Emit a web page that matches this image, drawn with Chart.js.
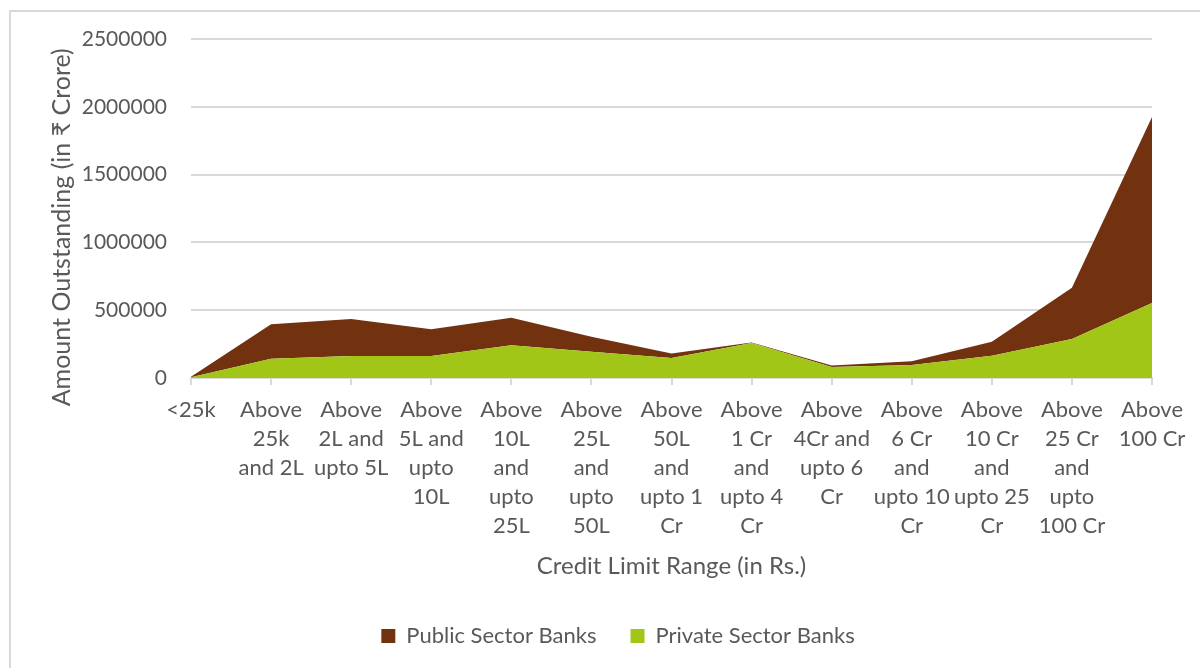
<!DOCTYPE html>
<html>
<head>
<meta charset="utf-8">
<script src="https://cdn.jsdelivr.net/npm/chart.js@4.4.1/dist/chart.umd.min.js"></script>
<style>
  html, body { margin: 0; padding: 0; background: #ffffff; }
  #frame { position: absolute; left: 9px; top: 10px; width: 1300px; height: 800px;
           border-left: 2px solid #d9d9d9; border-top: 2px solid #d9d9d9; box-sizing: border-box; }
  #wrap { position: absolute; left: 0; top: 0; width: 1200px; height: 668px; }
</style>
</head>
<body>
<div id="frame"></div>
<div id="wrap"><canvas id="c" width="1200" height="668"></canvas></div>
<script>
const categories = [
  "<25k",
  ["Above", "25k", "and 2L"],
  ["Above", "2L and", "upto 5L"],
  ["Above", "5L and", "upto", "10L"],
  ["Above", "10L", "and", "upto", "25L"],
  ["Above", "25L", "and", "upto", "50L"],
  ["Above", "50L", "and", "upto 1", "Cr"],
  ["Above", "1 Cr", "and", "upto 4", "Cr"],
  ["Above", "4Cr and", "upto 6", "Cr"],
  ["Above", "6 Cr", "and", "upto 10", "Cr"],
  ["Above", "10 Cr", "and", "upto 25", "Cr"],
  ["Above", "25 Cr", "and", "upto", "100 Cr"],
  ["Above", "100 Cr"]
];
const privateSectorBanks = [6000, 142000, 162000, 162000, 241000, 194000, 148000, 259000, 81000, 96000, 165000, 288000, 554000];
const publicSectorBanks  = [4000, 254000, 273000, 197000, 204000, 111000, 32000, 3000, 12000, 27000, 103000, 377000, 1371000];
const yTicks = [0, 500000, 1000000, 1500000, 2000000, 2500000];

const TEXT = '#595959';
const FONT = "Lato, 'Noto Sans', 'DejaVu Sans', sans-serif";
const GRID = '#d9d9d9';

const legendShift = {
  id: 'legendShift',
  afterLayout(chart) {
    const lg = chart.legend;
    if (lg) { lg.left += 22; lg.right += 22; }
  }
};

new Chart(document.getElementById('c'), {
  type: 'line',
  data: {
    labels: categories,
    datasets: [
      {
        label: 'Private Sector Banks',
        data: privateSectorBanks,
        backgroundColor: '#a2c617',
        borderColor: '#a2c617',
        borderWidth: 0,
        pointRadius: 0,
        fill: 'origin',
        tension: 0
      },
      {
        label: 'Public Sector Banks',
        data: publicSectorBanks,
        backgroundColor: '#72310f',
        borderColor: '#72310f',
        borderWidth: 0,
        pointRadius: 0,
        fill: '-1',
        tension: 0
      }
    ]
  },
  plugins: [legendShift],
  options: {
    responsive: false,
    animation: false,
    events: [],
    layout: { padding: { left: 40, top: 39, right: 48, bottom: 11 } },
    plugins: {
      tooltip: { enabled: false },
      legend: {
        position: 'bottom',
        reverse: true,
        labels: {
          boxWidth: 14,
          boxHeight: 14,
          padding: 34,
          color: TEXT,
          font: { family: FONT, size: 22 }
        }
      }
    },
    scales: {
      x: {
        stacked: true,
        offset: false,
        grid: { drawOnChartArea: false, drawTicks: true, tickLength: 7, color: GRID, lineWidth: 2 },
        border: { display: true, color: GRID, width: 2 },
        ticks: {
          autoSkip: false,
          maxRotation: 0,
          minRotation: 0,
          padding: 10,
          color: TEXT,
          font: { family: FONT, size: 22, lineHeight: 1.318 }
        },
        title: {
          display: true,
          text: 'Credit Limit Range (in Rs.)',
          color: TEXT,
          font: { family: FONT, size: 24, lineHeight: 1.2 },
          padding: { top: 0, bottom: 10 }
        },
        afterFit: (s) => { s.height = 213; }
      },
      y: {
        stacked: true,
        min: 0,
        max: 2500000,
        afterBuildTicks: (s) => { s.ticks = yTicks.map(v => ({ value: v })); },
        grid: { drawTicks: false, color: GRID, lineWidth: 2 },
        border: { display: false },
        ticks: {
          padding: 24,
          color: TEXT,
          font: { family: FONT, size: 21 },
          callback: (v) => String(v)
        },
        title: {
          display: true,
          text: 'Amount Outstanding (in ₹ Crore)\u2002\u2002\u2002',
          color: TEXT,
          font: { family: FONT, size: 25, lineHeight: 1.2 },
          padding: { top: 7, bottom: 0 }
        },
        afterFit: (s) => { s.width = 151; }
      }
    }
  }
});
</script>
</body>
</html>
